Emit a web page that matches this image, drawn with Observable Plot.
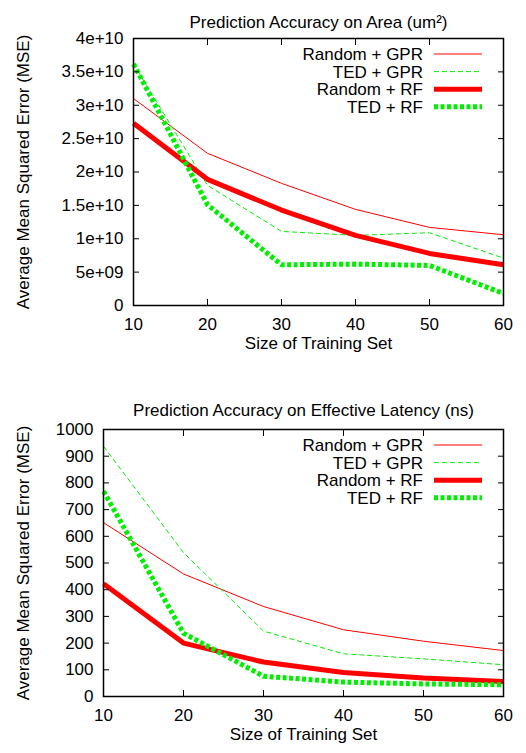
<!DOCTYPE html>
<html><head><meta charset="utf-8">
<script src="https://cdn.jsdelivr.net/npm/d3@7"></script>
<script src="https://cdn.jsdelivr.net/npm/@observablehq/plot@0.6"></script>
<style>
body{margin:0;background:#fff;font-family:"Liberation Sans",Arial,Helvetica,sans-serif;}
.chart{position:relative;width:526px;}
.chart svg{display:block;}
.legend{position:absolute;left:0;top:0;}
</style></head><body>
<div id="c1" class="chart"></div>
<div id="c2" class="chart"></div>
<script>
// ---- data ----
const trainingSizes = [10, 20, 30, 40, 50, 60];
const seriesNames = ["Random + GPR", "TED + GPR", "Random + RF", "TED + RF"];

const areaRandomGPR = [3.10e10, 2.28e10, 1.83e10, 1.44e10, 1.17e10, 1.06e10];
const areaTedGPR    = [3.62e10, 1.80e10, 1.11e10, 1.05e10, 1.09e10, 0.71e10];
const areaRandomRF  = [2.73e10, 1.89e10, 1.43e10, 1.05e10, 0.78e10, 0.61e10];
const areaTedRF     = [3.62e10, 1.51e10, 0.61e10, 0.62e10, 0.60e10, 0.18e10];

const latRandomGPR = [651, 459, 337, 250, 207, 172];
const latTedGPR    = [937, 539, 245, 160, 141, 119];
const latRandomRF  = [422, 200, 129, 90, 69, 56];
const latTedRF     = [769, 237, 76, 54, 47, 44];

const xTicks = [10, 20, 30, 40, 50, 60];
const areaTicks = [0, 5e9, 1e10, 1.5e10, 2e10, 2.5e10, 3e10, 3.5e10, 4e10];
const areaTickLabels = ["0", "5e+09", "1e+10", "1.5e+10", "2e+10", "2.5e+10", "3e+10", "3.5e+10", "4e+10"];
const latTicks = [0, 100, 200, 300, 400, 500, 600, 700, 800, 900, 1000];
const latTickLabels = ["0", "100", "200", "300", "400", "500", "600", "700", "800", "900", "1000"];

const areaTitle = "Prediction Accuracy on Area (um²)";
const latTitle = "Prediction Accuracy on Effective Latency (ns)";
const xLabel = "Size of Training Set";
const yLabel = "Average Mean Squared Error (MSE)";

// ---- styles ----
const RED = "#ff0000", GREEN = "#00ee00";
const lineStyles = {
  "Random + GPR": {stroke: RED, strokeWidth: 1},
  "TED + GPR": {stroke: GREEN, strokeWidth: 1, strokeDasharray: "5,3"},
  "Random + RF": {stroke: RED, strokeWidth: 5},
  "TED + RF": {stroke: GREEN, strokeWidth: 5, strokeDasharray: "4,2.5"}
};
const FONT = '"Liberation Sans", Arial, Helvetica, sans-serif';
const FS = 17;

function rows(seriesArrays) {
  const out = [];
  seriesNames.forEach((name, i) => {
    trainingSizes.forEach((x, j) => out.push({series: name, x, y: seriesArrays[i][j]}));
  });
  return out;
}

function makeChart(el, {title, series, yDomain, yTicks, yTickLabels, height, margin, titleDy, legendTop}) {
  const data = rows(series);
  const labelMap = new Map(yTicks.map((t, i) => [t, yTickLabels[i]]));
  const marks = [];
  seriesNames.forEach(name => {
    marks.push(Plot.line(data.filter(d => d.series === name), {x: "x", y: "y", ...lineStyles[name], strokeLinejoin: "miter", strokeLinecap: "butt"}));
  });
  marks.push(
    Plot.frame({stroke: "#000", strokeWidth: 1.5}),
    Plot.axisX({anchor: "bottom", ticks: xTicks, tickSize: -6, tickPadding: 18, label: null, fontSize: FS, fill: "#000", tickFormat: d => String(d)}),
    Plot.axisX({anchor: "top", ticks: xTicks, tickSize: -6, label: null, tickFormat: () => ""}),
    Plot.axisY({anchor: "left", ticks: yTicks, tickSize: -6, tickPadding: 16, label: null, fontSize: FS, fill: "#000", tickFormat: d => labelMap.get(d) ?? ""}),
    Plot.axisY({anchor: "right", ticks: yTicks, tickSize: -6, label: null, tickFormat: () => ""}),
    Plot.text([title], {frameAnchor: "top", dy: titleDy, fontSize: FS, fill: "#000"}),
    Plot.text([xLabel], {frameAnchor: "bottom", dy: 43, fontSize: FS, fill: "#000"}),
    Plot.text([yLabel], {frameAnchor: "left", dx: -(margin.left - 23), rotate: -90, textAnchor: "middle", fontSize: FS, fill: "#000"})
  );
  const chart = Plot.plot({
    width: 526, height,
    marginLeft: margin.left, marginRight: margin.right, marginTop: margin.top, marginBottom: margin.bottom,
    style: {fontSize: FS + "px", fontFamily: FONT, background: "#fff", color: "#000"},
    x: {domain: [10, 60]},
    y: {domain: yDomain},
    marks
  });
  el.appendChild(chart);

  // legend (top-right, inside frame)
  const ns = "http://www.w3.org/2000/svg";
  const lg = document.createElementNS(ns, "svg");
  lg.setAttribute("class", "legend");
  lg.setAttribute("width", 526);
  lg.setAttribute("height", height);
  lg.style.pointerEvents = "none";
  seriesNames.forEach((name, i) => {
    const cy = legendTop + i * 17.6;
    const t = document.createElementNS(ns, "text");
    t.setAttribute("x", 423);
    t.setAttribute("y", cy);
    t.setAttribute("dy", "0.35em");
    t.setAttribute("text-anchor", "end");
    t.setAttribute("font-size", FS);
    t.setAttribute("font-family", FONT);
    t.textContent = name;
    lg.appendChild(t);
    const l = document.createElementNS(ns, "line");
    const st = lineStyles[name];
    l.setAttribute("x1", 434); l.setAttribute("x2", 482);
    l.setAttribute("y1", cy); l.setAttribute("y2", cy);
    l.setAttribute("stroke", st.stroke);
    l.setAttribute("stroke-width", st.strokeWidth);
    if (st.strokeDasharray) l.setAttribute("stroke-dasharray", st.strokeDasharray);
    lg.appendChild(l);
  });
  el.appendChild(lg);
}

makeChart(document.getElementById("c1"), {
  title: areaTitle,
  series: [areaRandomGPR, areaTedGPR, areaRandomRF, areaTedRF],
  yDomain: [0, 4e10], yTicks: areaTicks, yTickLabels: areaTickLabels,
  height: 375, margin: {left: 133, right: 23, top: 38, bottom: 70},
  titleDy: -23, legendTop: 54
});
makeChart(document.getElementById("c2"), {
  title: latTitle,
  series: [latRandomGPR, latTedGPR, latRandomRF, latTedRF],
  yDomain: [0, 1000], yTicks: latTicks, yTickLabels: latTickLabels,
  height: 378, margin: {left: 103, right: 23, top: 54, bottom: 57},
  titleDy: -26, legendTop: 70
});
</script>
</body></html>
